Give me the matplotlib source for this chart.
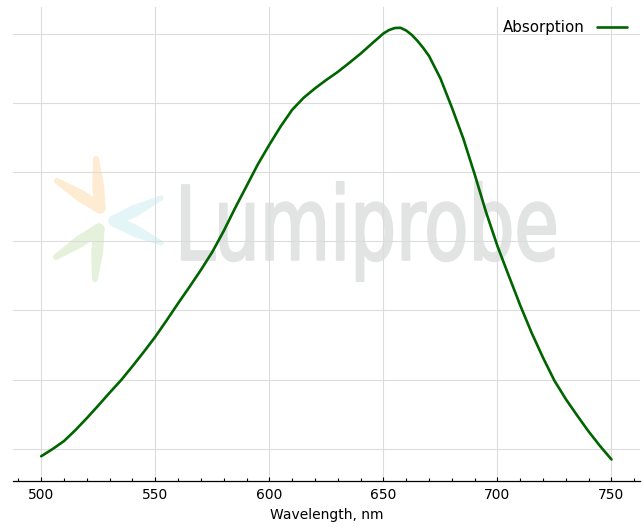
import numpy as np
import matplotlib
matplotlib.use("Agg")
import matplotlib.pyplot as plt
from matplotlib.ticker import MultipleLocator, NullFormatter
from matplotlib.textpath import TextPath
from matplotlib.patches import PathPatch, Polygon, Circle
from matplotlib.font_manager import FontProperties
import matplotlib.transforms as mtransforms

# ---- data ----
wavelength = [500, 505, 510, 515, 520, 525, 530, 535, 540, 545, 550, 555, 560, 565,
              570, 575, 580, 585, 590, 595, 600, 605, 610, 615, 620, 625, 630, 635,
              640, 645, 647.5, 650, 652.5, 655, 657.5, 660, 662.5, 665, 667.5, 670,
              675, 680, 685, 690, 695, 700, 705, 710, 715, 720, 725, 730, 735, 740,
              745, 750]
absorption = [0.0893, 0.0997, 0.1113, 0.1271, 0.1444, 0.1625, 0.1812, 0.1992, 0.2194,
              0.2403, 0.2620, 0.2858, 0.3103, 0.3341, 0.3586, 0.3846, 0.4149, 0.4481,
              0.4798, 0.5115, 0.5396, 0.5663, 0.5901, 0.6074, 0.6211, 0.6334, 0.6449,
              0.6579, 0.6713, 0.6860, 0.6932, 0.7005, 0.7055, 0.7084, 0.7087, 0.7048,
              0.6983, 0.6896, 0.6795, 0.6680, 0.6356, 0.5937, 0.5490, 0.4971, 0.4423,
              0.3932, 0.3500, 0.3074, 0.2677, 0.2317, 0.1985, 0.1718, 0.1480, 0.1250,
              0.1040, 0.0846]
series_label = "Absorption"
x_label = "Wavelength, nm"
x_ticks = [500, 550, 600, 650, 700, 750]
y_grid = [0.1, 0.2, 0.3, 0.4, 0.5, 0.6, 0.7]
watermark_text = "Lumiprobe"

W, H = 643, 527
DPI = 100
fig = plt.figure(figsize=(W / DPI, H / DPI), dpi=DPI)
ax = fig.add_axes([12.7 / W, (H - 481) / H, (640 - 12.7) / W, (481 - 6.5) / H])

ax.plot(wavelength, absorption, color="#006400", lw=1.9, label=series_label,
        zorder=3, solid_capstyle="round", solid_joinstyle="round")

ax.set_xlim(487.5, 762.5)
ax.set_ylim(0.0535, 0.7395)
ax.set_xticks(x_ticks)
ax.xaxis.set_minor_locator(MultipleLocator(10))
ax.set_yticks(y_grid)
ax.yaxis.set_major_formatter(NullFormatter())
ax.tick_params(axis="y", length=0, left=False)
ax.tick_params(axis="x", which="major", direction="in", length=3.2, width=0.8,
               labelsize=10, pad=5, color="black")
ax.tick_params(axis="x", which="minor", direction="in", length=2.0, width=0.8,
               color="black")
for s in ["left", "right", "top"]:
    ax.spines[s].set_visible(False)
ax.spines["bottom"].set_linewidth(0.9)
ax.set_axisbelow(True)
ax.grid(True, which="major", color="#dcdcdc", lw=0.8)
ax.set_xlabel(x_label, fontsize=10, labelpad=4)

leg = ax.legend(loc="upper right", frameon=False, markerfirst=False, fontsize=10.8,
                handlelength=2.0, borderaxespad=0.5, handletextpad=0.8)

# ---- watermark (pixel coordinates, origin bottom-left) ----
px = mtransforms.Affine2D().scale(1.0 / DPI) + fig.dpi_scale_trans

tp = TextPath((0, 0), watermark_text, size=1,
              prop=FontProperties(family="DejaVu Sans", weight="normal"))
bb = tp.get_extents()
x0, x1 = 182, 555
ytop, ybot = H - 182, H - 281
tr = (mtransforms.Affine2D().translate(-bb.x0, -bb.y0)
      .scale((x1 - x0) / bb.width, (ytop - ybot) / bb.height)
      .translate(x0, ybot)) + px
ax.add_patch(PathPatch(tp, transform=tr, facecolor="#e2e3e3", edgecolor="#e2e3e3",
                       lw=1.6, joinstyle="round", zorder=0.2, clip_on=False))


def arm(vertex, tip, wb, wm, wt, color):
    v = np.array([vertex[0], H - vertex[1]], float)
    t = np.array([tip[0], H - tip[1]], float)
    d = t - v
    n = np.array([-d[1], d[0]]) / np.hypot(*d)
    m = v + 0.45 * d
    pts = [v + n * wb / 2, m + n * wm / 2, t + n * wt / 2,
           t - n * wt / 2, m - n * wm / 2, v - n * wb / 2]
    ax.add_patch(Polygon(pts, closed=True, transform=px, facecolor=color,
                         edgecolor="none", zorder=0.2, clip_on=False))
    ax.add_patch(Circle(t, wt / 2, transform=px, facecolor=color,
                        edgecolor="none", zorder=0.2, clip_on=False))
    ax.add_patch(Circle(v, wb / 2, transform=px, facecolor=color,
                        edgecolor="none", zorder=0.2, clip_on=False))


orange, cyan, green = "#fdebd2", "#e3f5f6", "#e6f1dc"
arm((100, 208), (96, 159), 11, 12, 6, orange)
arm((100, 208), (57, 181), 11, 12, 6, orange)
arm((114, 221), (161, 198), 11, 12, 5, cyan)
arm((114, 221), (161, 243), 11, 12, 5, cyan)
arm((99, 229), (56, 257), 11, 12, 6, green)
arm((99, 229), (95, 279), 11, 12, 6, green)

fig.savefig("out.png", dpi=DPI)
